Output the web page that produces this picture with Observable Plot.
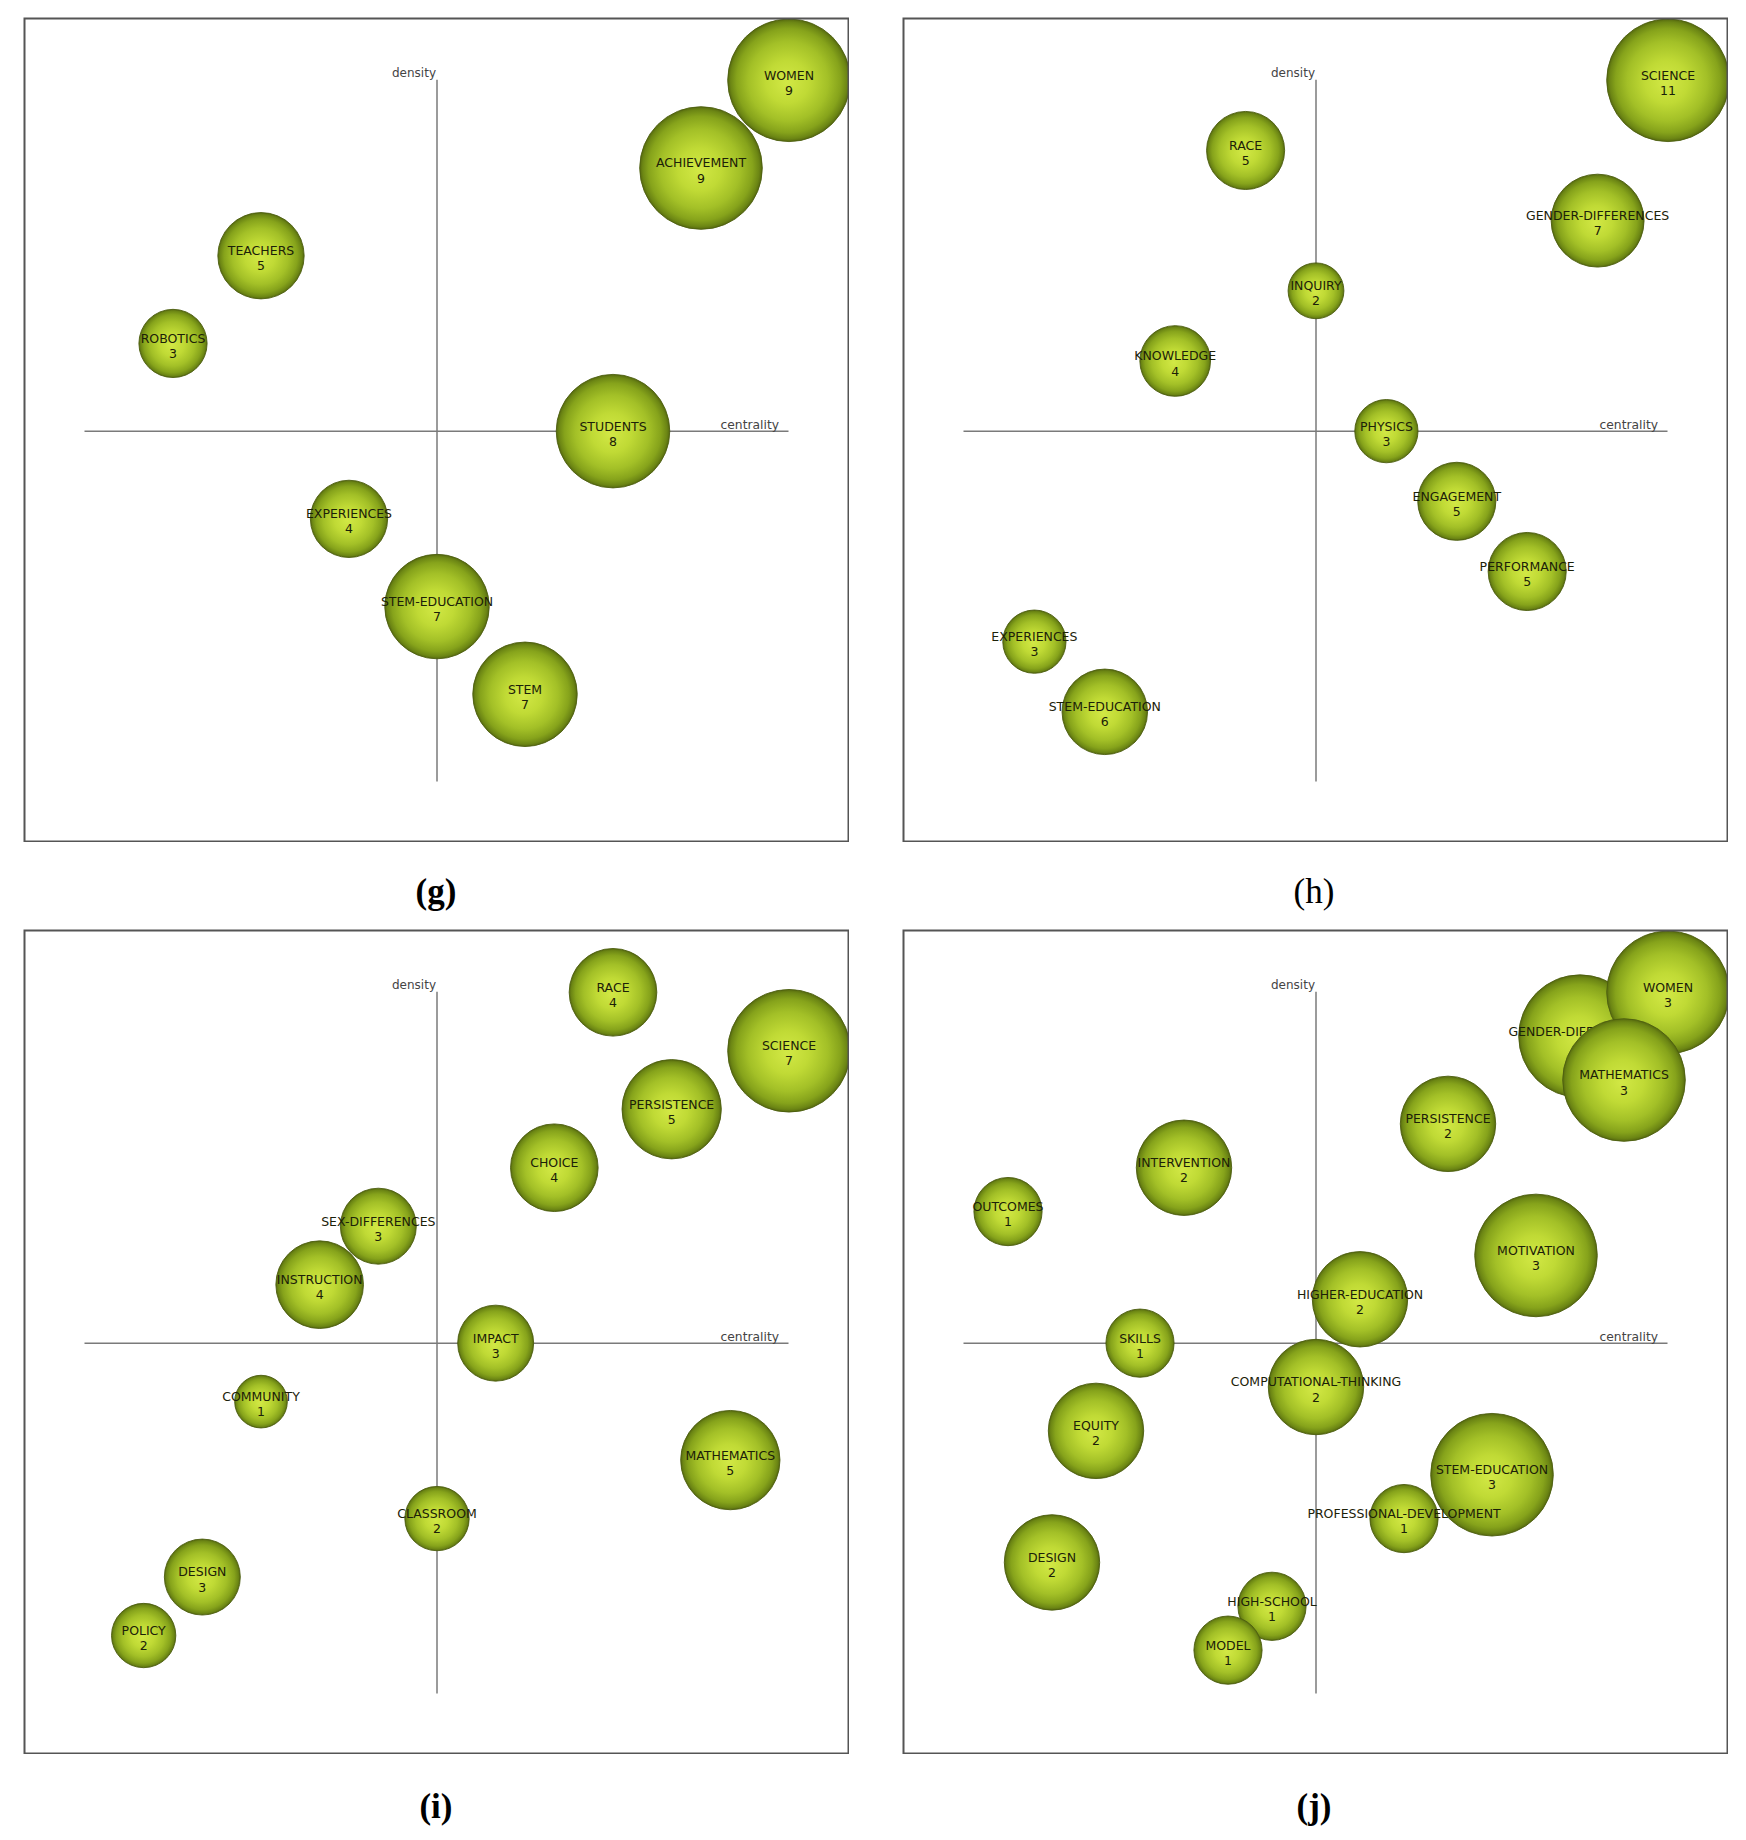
<!DOCTYPE html>
<html>
<head>
<meta charset="utf-8">
<script src="https://cdn.jsdelivr.net/npm/d3@7"></script>
<script src="https://cdn.jsdelivr.net/npm/@observablehq/plot@0.6"></script>
<style>
  html, body { margin: 0; padding: 0; background: #fff; }
  #wrap { position: relative; width: 1746px; height: 1840px; background: #fff; overflow: hidden; }
  .panel { position: absolute; width: 826px; height: 825px; }
  .panel svg { display: block; overflow: hidden; }
  .cap { position: absolute; width: 200px; text-align: center; font-family: "Liberation Serif", "Times New Roman", serif; font-size: 35px; color: #000; line-height: 1; }
</style>
</head>
<body>
<div id="wrap"></div>
<script>
// ---------- Data (rank of centrality / density within each period, documents per theme) ----------
// Panel (g): 8 themes
const gThemes     = ["WOMEN", "ACHIEVEMENT", "TEACHERS", "ROBOTICS", "STUDENTS", "EXPERIENCES", "STEM-EDUCATION", "STEM"];
const gCentrality = [8, 7, 2, 1, 6, 3, 4, 5];
const gDensity    = [8, 7, 6, 5, 4, 3, 2, 1];
const gDocs       = [9, 9, 5, 3, 8, 4, 7, 7];

// Panel (h): 10 themes
const hThemes     = ["SCIENCE", "RACE", "GENDER-DIFFERENCES", "INQUIRY", "KNOWLEDGE", "PHYSICS", "ENGAGEMENT", "PERFORMANCE", "EXPERIENCES", "STEM-EDUCATION"];
const hCentrality = [10, 4, 9, 5, 3, 6, 7, 8, 1, 2];
const hDensity    = [10, 9, 8, 7, 6, 5, 4, 3, 2, 1];
const hDocs       = [11, 5, 7, 2, 4, 3, 5, 5, 3, 6];

// Panel (i): 12 themes
const iThemes     = ["RACE", "SCIENCE", "PERSISTENCE", "CHOICE", "SEX-DIFFERENCES", "INSTRUCTION", "IMPACT", "COMMUNITY", "MATHEMATICS", "CLASSROOM", "DESIGN", "POLICY"];
const iCentrality = [9, 12, 10, 8, 5, 4, 7, 3, 11, 6, 2, 1];
const iDensity    = [12, 11, 10, 9, 8, 7, 6, 5, 4, 3, 2, 1];
const iDocs       = [4, 7, 5, 4, 3, 4, 3, 1, 5, 2, 3, 2];

// Panel (j): 16 themes
const jThemes     = ["GENDER-DIFFERENCES", "WOMEN", "MATHEMATICS", "PERSISTENCE", "INTERVENTION", "OUTCOMES", "MOTIVATION", "HIGHER-EDUCATION", "SKILLS", "COMPUTATIONAL-THINKING", "EQUITY", "STEM-EDUCATION", "PROFESSIONAL-DEVELOPMENT", "DESIGN", "HIGH-SCHOOL", "MODEL"];
const jCentrality = [14, 16, 15, 11, 5, 1, 13, 9, 4, 8, 3, 12, 10, 2, 7, 6];
const jDensity    = [15, 16, 14, 13, 12, 11, 10, 9, 8, 7, 6, 5, 4, 3, 2, 1];
const jDocs       = [3, 3, 3, 2, 2, 1, 3, 2, 1, 2, 2, 3, 1, 2, 1, 1];

const panelLabels = ["(g)", "(h)", "(i)", "(j)"];
const axisLabels  = ["centrality", "density"];

// ---------- Layout ----------
const PW = 826, PH = 825;
const panelPos = [[23, 17], [902, 17], [23, 929], [902, 929]];
const capPos   = [[436, 893], [1314, 893], [436, 1808], [1314, 1808]];
const capBold  = [true, false, true, true];

const panelDefs = [
  [gThemes, gCentrality, gDensity, gDocs],
  [hThemes, hCentrality, hDensity, hDocs],
  [iThemes, iCentrality, iDensity, iDocs],
  [jThemes, jCentrality, jDensity, jDocs]
];

const wrap = document.getElementById("wrap");

function gradientMark(id) {
  return () => {
    const ns = "http://www.w3.org/2000/svg";
    const defs = document.createElementNS(ns, "defs");
    const g = document.createElementNS(ns, "radialGradient");
    g.setAttribute("id", id);
    g.setAttribute("cx", "50%"); g.setAttribute("cy", "50%"); g.setAttribute("r", "50%");
    g.setAttribute("fx", "48%"); g.setAttribute("fy", "52%");
    const stops = [[0, "#d2e845"], [0.35, "#c0da35"], [0.65, "#a3c027"], [0.85, "#86a31b"], [0.95, "#6c8614"], [1, "#56690f"]];
    for (const [o, c] of stops) {
      const s = document.createElementNS(ns, "stop");
      s.setAttribute("offset", o);
      s.setAttribute("stop-color", c);
      g.appendChild(s);
    }
    defs.appendChild(g);
    return defs;
  };
}

panelDefs.forEach(([names, cen, den, docs], k) => {
  const n = names.length;
  const data = names.map((name, i) => ({name, centrality: cen[i], density: den[i], docs: docs[i]}));
  const maxDocs = d3.max(docs);
  const gid = "bubbleGrad" + k;
  const mid = n / 2;

  const bubbleMarks = data.flatMap(d => [
    Plot.dot([d], {x: "centrality", y: "density", r: "docs", fill: `url(#${gid})`, stroke: "#4d5f10", strokeWidth: 0.9}),
    Plot.text([d], {x: "centrality", y: "density", text: "name", dy: -4.6, fontSize: 12.5, fill: "#1c2108", fontFamily: "DejaVu Sans, Verdana, sans-serif"}),
    Plot.text([d], {x: "centrality", y: "density", text: "docs", dy: 10.6, fontSize: 12.5, fill: "#1c2108", fontFamily: "DejaVu Sans, Verdana, sans-serif"})
  ]);

  const chart = Plot.plot({
    width: PW,
    height: PH,
    margin: 0,
    style: {background: "#fff", overflow: "hidden"},
    x: {domain: [0, n], range: [61.5, 765.5], axis: null},
    y: {domain: [0, n], range: [764.5, 62.8], axis: null},
    r: {type: "linear", domain: [0, maxDocs], range: [20.5, 61.3]},
    marks: [
      gradientMark(gid),
      Plot.ruleX([mid], {y1: 0, y2: n, stroke: "#7a7a7a", strokeWidth: 1.5}),
      Plot.ruleY([mid], {x1: 0, x2: n, stroke: "#7a7a7a", strokeWidth: 1.5}),
      Plot.text([axisLabels[1]], {x: mid, y: n, text: d => d, textAnchor: "end", dx: -1, dy: -7, fontSize: 12, fill: "#444", fontFamily: "DejaVu Sans, Verdana, sans-serif"}),
      Plot.text([axisLabels[0]], {x: n, y: mid, text: d => d, textAnchor: "end", dx: -10, dy: -6, fontSize: 12.3, fill: "#444", fontFamily: "DejaVu Sans, Verdana, sans-serif"}),
      ...bubbleMarks,
      Plot.frame({stroke: "#555", strokeWidth: 2, inset: 1})
    ]
  });

  const div = document.createElement("div");
  div.className = "panel";
  div.style.left = panelPos[k][0] + "px";
  div.style.top = panelPos[k][1] + "px";
  div.appendChild(chart);
  wrap.appendChild(div);

  const cap = document.createElement("div");
  cap.className = "cap";
  cap.textContent = panelLabels[k];
  cap.style.left = (capPos[k][0] - 100) + "px";
  cap.style.top = (capPos[k][1] - 19) + "px";
  cap.style.fontWeight = capBold[k] ? "bold" : "normal";
  wrap.appendChild(cap);
});
</script>
</body>
</html>
